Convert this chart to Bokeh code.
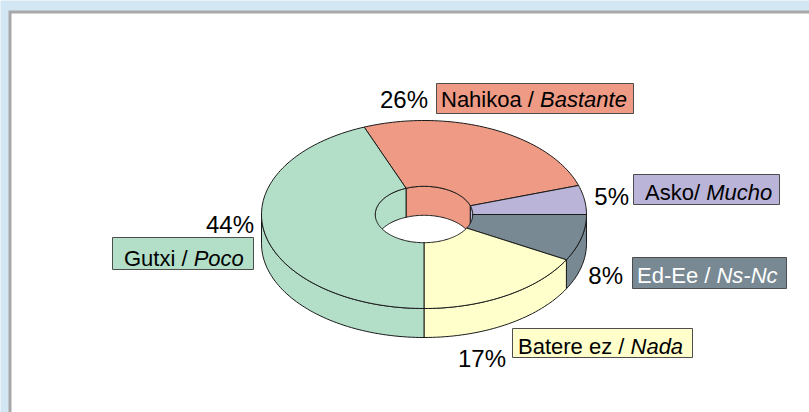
import numpy as np
from bokeh.plotting import figure
from bokeh.models import Range1d
from bokeh.embed import file_html
from bokeh.resources import INLINE
from bokeh.core.properties import value

# ---------------- data ----------------
label_main = ["Nahikoa / ", "Asko/ ", "Ed-Ee / ", "Batere ez / ", "Gutxi / "]
label_italic = ["Bastante", "Mucho", "Ns-Nc", "Nada", "Poco"]
percents = [26, 5, 8, 17, 44]
colors = ["#ee9a84", "#bab4d8", "#798993", "#ffffcc", "#b3dec8"]
text_colors = ["black", "black", "white", "black", "black"]

# ---------------- layout ----------------
W, H = 809, 412
BLUE = "#d3e6f4"
FONT = "Liberation Sans"
cx, cy = 423.5, 214.0          # pie centre (pixels)
ra, rb = 162.5, 94.0           # outer ellipse semi-axes
depth = 29.0
hole = 0.30
first_angle = 338.4            # degrees clockwise from 12 o'clock
BASE_SHIFT = -7                # renderer baseline correction

# label boxes: left, right, top, bottom ; text start x ; baseline y
box_l = [436, 633, 632, 512, 112]
box_r = [633, 779, 786, 692, 253]
box_t = [83, 174, 257, 328, 237]
box_b = [113, 204, 288, 357, 269]
txt_x = [440.5, 644.5, 636.5, 517.5, 123.5]
txt_y = [106, 199, 282, 353, 265]
pct_x = [427.5, 628.5, 622.5, 505.5, 253.5]
pct_y = [106, 203, 282, 365, 231]

# Arial / Liberation Sans advance widths (per 1000 em)
CW = {" ": 278, "/": 278, "-": 333, "%": 889, "A": 667, "B": 667, "E": 667,
      "G": 778, "M": 833, "N": 722, "P": 667, "a": 556, "b": 556, "c": 500,
      "d": 556, "e": 556, "h": 556, "i": 222, "k": 500, "n": 556, "o": 556,
      "r": 333, "s": 500, "t": 278, "u": 556, "x": 500, "z": 500}


def text_width(s, size):
    return sum(CW.get(ch, 556) for ch in s) * size / 1000.0


p = figure(width=W, height=H, x_range=Range1d(0, W), y_range=Range1d(H, 0),
           output_backend="svg", toolbar_location=None, min_border=0,
           x_axis_location=None, y_axis_location=None,
           outline_line_color=None, background_fill_color=BLUE,
           border_fill_color=BLUE)
p.xgrid.visible = False
p.ygrid.visible = False

# panel with grey left/top border
p.quad(left=[8], right=[W], top=[10], bottom=[H], fill_color="#a8a8a8", line_color=None)
p.quad(left=[11], right=[W], top=[13], bottom=[H], fill_color="white", line_color=None)


def arc(t1, t2, scale, dy=0.0):
    n = max(3, int(abs(t2 - t1) / 1.5) + 2)
    t = np.radians(np.linspace(t1, t2, n))
    return list(cx + scale * ra * np.sin(t)), list(cy - scale * rb * np.cos(t) + dy)


def clip(t1, t2, lo, hi):
    out = []
    for k in range(-2, 3):
        a, b = max(t1, lo + 360 * k), min(t2, hi + 360 * k)
        if b > a:
            out.append((a, b))
    return out


angles = []
acc = first_angle
for v in percents:
    angles.append((acc, acc + 3.6 * v))
    acc += 3.6 * v

LINE = "#1a1a1a"

# outer (front) walls
xs, ys, cs = [], [], []
for (t1, t2), c in zip(angles, colors):
    for a, b in clip(t1, t2, 90, 270):
        x1, y1 = arc(a, b, 1.0)
        x2, y2 = arc(b, a, 1.0, depth)
        xs.append(x1 + x2); ys.append(y1 + y2); cs.append(c)
p.patches(xs, ys, fill_color=cs, line_color=LINE, line_width=1)

# inner (back) walls of the hole
xs, ys, cs = [], [], []
for (t1, t2), c in zip(angles, colors):
    for a, b in clip(t1, t2, -90, 90):
        x1, y1 = arc(a, b, hole)
        x2, y2 = arc(b, a, hole, depth)
        xs.append(x1 + x2); ys.append(y1 + y2); cs.append(c)
p.patches(xs, ys, fill_color=cs, line_color=LINE, line_width=1)

# top surfaces
xs, ys = [], []
for (t1, t2) in angles:
    x1, y1 = arc(t1, t2, 1.0)
    x2, y2 = arc(t2, t1, hole)
    xs.append(x1 + x2); ys.append(y1 + y2)
p.patches(xs, ys, fill_color=colors, line_color=LINE, line_width=1)

# label boxes
p.quad(left=box_l, right=box_r, top=box_t, bottom=box_b,
       fill_color=colors, line_color="#4d4d4d", line_width=1)

# label texts (normal + italic part)
ty = [y + BASE_SHIFT for y in txt_y]
split_x = [x + text_width(s, 22) for x, s in zip(txt_x, label_main)]
p.text(x=txt_x, y=ty, text=label_main, text_color=text_colors,
       text_font=value(FONT), text_font_size="22px", text_baseline="alphabetic",
       text_align="left")
p.text(x=split_x, y=ty, text=label_italic, text_color=text_colors,
       text_font=value(FONT), text_font_size="22px", text_font_style="italic",
       text_baseline="alphabetic", text_align="left")

# percentages
p.text(x=pct_x, y=[y + BASE_SHIFT for y in pct_y], text=[f"{v}%" for v in percents],
       text_color="black", text_font=value(FONT), text_font_size="24px",
       text_baseline="alphabetic", text_align="right")

open("out.html", "w").write(file_html(p, INLINE))
